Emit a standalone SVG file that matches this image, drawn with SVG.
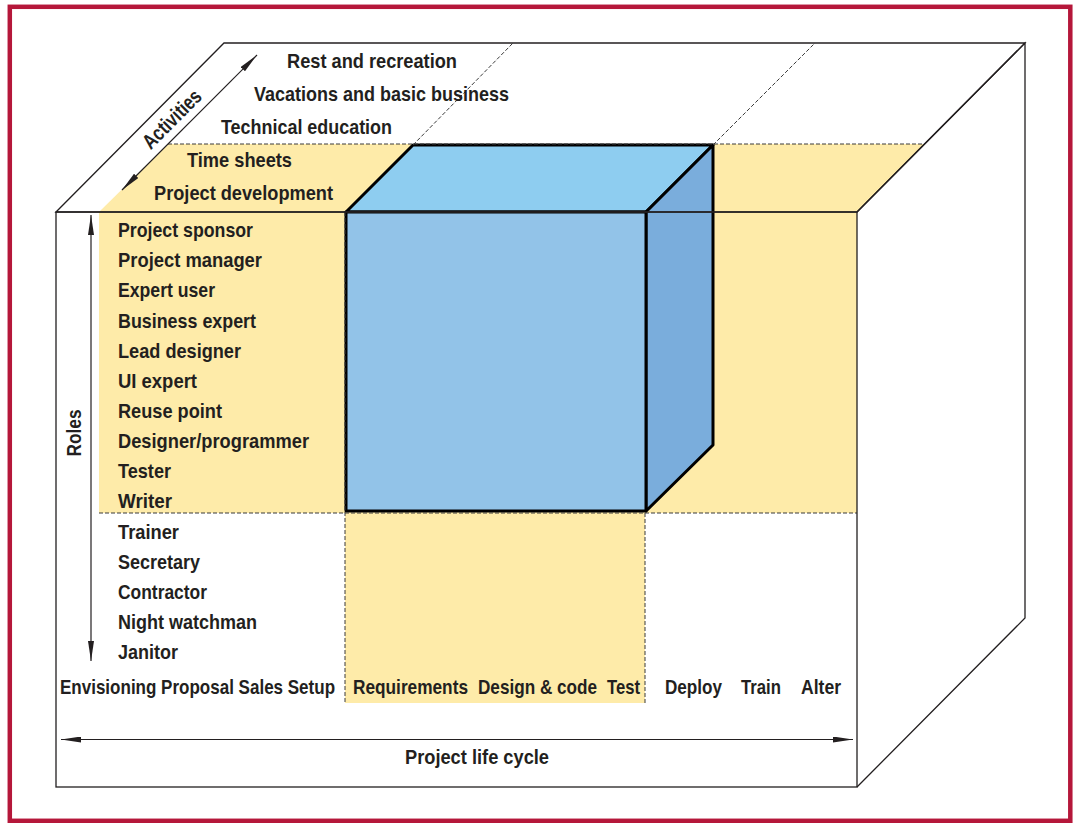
<svg xmlns="http://www.w3.org/2000/svg" width="1073" height="823" viewBox="0 0 1073 823">
<style>
text{font-family:"Liberation Sans",Arial,sans-serif;font-weight:bold;font-size:21px;fill:#231F20}
.edge{fill:none;stroke:#231F20;stroke-width:1.3}
.dash{fill:none;stroke:#3a3a3a;stroke-width:1;stroke-dasharray:4 2}
.cube{stroke:#000;stroke-width:3;stroke-linejoin:round}
.arr{fill:none;stroke:#231F20;stroke-width:1.2;marker-start:url(#ah);marker-end:url(#ah)}
</style>
<defs>
<marker id="ah" markerUnits="userSpaceOnUse" markerWidth="20" markerHeight="6" refX="20" refY="3" orient="auto-start-reverse">
<path d="M0,0 L20,3 L0,6 z" fill="#231F20"/>
</marker>
</defs>
<rect x="0" y="0" width="1073" height="823" fill="#fff"/>
<rect id="frame" x="9.8" y="6.8" width="1060.5" height="814" fill="none" stroke="#B5173A" stroke-width="4.5"/>

<g id="box">
<polygon points="56,212 224,43 1025,43 857,212" fill="#fff"/>
<polygon points="857,212 1025,43 1025,618 857,787" fill="#fff"/>
<rect x="56" y="212" width="801" height="575" fill="#fff"/>
<polygon points="99,212 168,144 925,144 857,212" fill="#FEEBA9"/>
<rect x="99" y="212" width="758" height="301" fill="#FEEBA9"/>
<rect x="345" y="513" width="300" height="190" fill="#FEEBA9"/>
</g>

<g id="cube">
<polygon class="cube" points="346,212 413,145 713,145 646,212" fill="#8ECDF0"/>
<polygon class="cube" points="646,212 713,145 713,445 646,511" fill="#7AADDC"/>
<rect class="cube" x="346" y="212" width="300" height="299" fill="#92C3E8"/>
</g>

<g id="guides">
<line class="dash" x1="168" y1="144" x2="925" y2="144"/>
<line class="dash" x1="99" y1="513" x2="857" y2="513"/>
<line class="dash" x1="345" y1="212" x2="345" y2="703"/>
<line class="dash" x1="645" y1="513" x2="645" y2="703"/>
<line class="dash" x1="413" y1="145" x2="513" y2="43"/>
<line class="dash" x1="713" y1="145" x2="815" y2="43"/>
</g>

<g id="box-edges">
<polygon class="edge" points="56,212 224,43 1025,43 857,212"/>
<polyline class="edge" points="857,212 1025,43 1025,618 857,787"/>
<rect class="edge" x="56" y="212" width="801" height="575"/>
</g>

<g id="connectors">
<line class="arr" x1="122" y1="190" x2="257" y2="55"/>
<line class="arr" x1="91" y1="215" x2="91" y2="661"/>
<line class="arr" x1="61" y1="739.5" x2="853" y2="739.5"/>
</g>

<g id="axis-labels">
<text transform="translate(177,124) rotate(-45)" text-anchor="middle" textLength="74" lengthAdjust="spacingAndGlyphs">Activities</text>
<text transform="translate(81,433) rotate(-90)" text-anchor="middle" textLength="47" lengthAdjust="spacingAndGlyphs">Roles</text>
<text x="405" y="764" textLength="144" lengthAdjust="spacingAndGlyphs">Project life cycle</text>
</g>

<g id="activities">
<text x="287" y="68" textLength="170" lengthAdjust="spacingAndGlyphs">Rest and recreation</text>
<text x="254" y="101" textLength="255" lengthAdjust="spacingAndGlyphs">Vacations and basic business</text>
<text x="221" y="134" textLength="171" lengthAdjust="spacingAndGlyphs">Technical education</text>
<text x="187" y="167" textLength="105" lengthAdjust="spacingAndGlyphs">Time sheets</text>
<text x="154" y="200" textLength="179" lengthAdjust="spacingAndGlyphs">Project development</text>
</g>

<g id="roles">
<text x="118" y="236.5" textLength="135" lengthAdjust="spacingAndGlyphs">Project sponsor</text>
<text x="118" y="266.5" textLength="144" lengthAdjust="spacingAndGlyphs">Project manager</text>
<text x="118" y="296.5" textLength="97" lengthAdjust="spacingAndGlyphs">Expert user</text>
<text x="118" y="327.5" textLength="138" lengthAdjust="spacingAndGlyphs">Business expert</text>
<text x="118" y="357.5" textLength="123" lengthAdjust="spacingAndGlyphs">Lead designer</text>
<text x="118" y="387.5" textLength="79" lengthAdjust="spacingAndGlyphs">UI expert</text>
<text x="118" y="417.5" textLength="104" lengthAdjust="spacingAndGlyphs">Reuse point</text>
<text x="118" y="447.5" textLength="191" lengthAdjust="spacingAndGlyphs">Designer/programmer</text>
<text x="118" y="477.5" textLength="53" lengthAdjust="spacingAndGlyphs">Tester</text>
<text x="118" y="507.5" textLength="54" lengthAdjust="spacingAndGlyphs">Writer</text>
<text x="118" y="538.5" textLength="61" lengthAdjust="spacingAndGlyphs">Trainer</text>
<text x="118" y="568.5" textLength="82" lengthAdjust="spacingAndGlyphs">Secretary</text>
<text x="118" y="598.5" textLength="89" lengthAdjust="spacingAndGlyphs">Contractor</text>
<text x="118" y="628.5" textLength="139" lengthAdjust="spacingAndGlyphs">Night watchman</text>
<text x="118" y="658.5" textLength="60" lengthAdjust="spacingAndGlyphs">Janitor</text>
</g>

<g id="phases">
<text transform="translate(60,694) scale(0.75,1)" textLength="366.7" lengthAdjust="spacingAndGlyphs">Envisioning Proposal Sales Setup</text>
<text transform="translate(353,694) scale(0.75,1)" textLength="153.3" lengthAdjust="spacingAndGlyphs">Requirements</text>
<text transform="translate(478,694) scale(0.75,1)" textLength="158.7" lengthAdjust="spacingAndGlyphs">Design &amp; code</text>
<text transform="translate(607,694) scale(0.75,1)" textLength="44" lengthAdjust="spacingAndGlyphs">Test</text>
<text transform="translate(665,694) scale(0.75,1)" textLength="76" lengthAdjust="spacingAndGlyphs">Deploy</text>
<text transform="translate(741,694) scale(0.75,1)" textLength="53.3" lengthAdjust="spacingAndGlyphs">Train</text>
<text transform="translate(801,694) scale(0.75,1)" textLength="53.3" lengthAdjust="spacingAndGlyphs">Alter</text>
</g>
</svg>
